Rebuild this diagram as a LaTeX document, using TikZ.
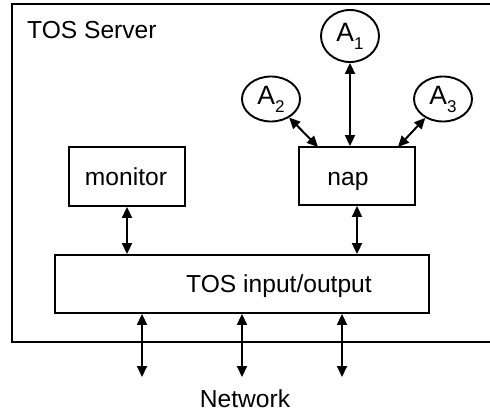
\documentclass[tikz,border=0pt]{standalone}
\usepackage{fontspec}
\setmainfont{Liberation Sans}
\usetikzlibrary{arrows.meta,shapes.geometric}

% lowered small index for the agent names
\newcommand\agentidx[1]{\raisebox{-0.3em}{\fontsize{17}{17}\selectfont #1}}

\begin{document}
\begin{tikzpicture}[x=1pt,y=-1pt,
  lbl/.style={font=\fontsize{24.6}{28}\selectfont,inner sep=0pt},
  box/.style={draw,line width=1.9pt,inner sep=0pt},
  agent/.style={draw,ellipse,line width=1.9pt,inner sep=0pt,
                font=\fontsize{26.5}{30}\selectfont},
  link/.style={line width=2pt,
    {Triangle[length=11pt,width=10pt]}-{Triangle[length=11pt,width=10pt]}}
]
\useasboundingbox (0,0) rectangle (490,412);

% server frame (open to the right)
\begin{scope}
  \clip (0,0) rectangle (490,412);
  \draw[line width=2.4pt] (12,4) rectangle (530,342);
\end{scope}
\node[lbl,anchor=base west] (srv) at (27,39) {TOS Server};

% boxes
\node[box,minimum width=116pt,minimum height=59pt] (monitor) at (127,176.5) {};
\node[lbl,anchor=base] (monl) at (126,185) {monitor};
\node[box,minimum width=116pt,minimum height=58pt] (nap) at (357,176) {};
\node[lbl,anchor=base] (napl) at (348,185) {nap};
\node[box,minimum width=374pt,minimum height=58pt] (io) at (242,284) {};
\node[lbl,anchor=base] (iol) at (279,292) {TOS input/output};

% agents
\node[agent,minimum width=58pt,minimum height=52pt] (A1) at (350,36) {A\agentidx{1}};
\node[agent,minimum width=58pt,minimum height=45pt] (A2) at (271,99) {A\agentidx{2}};
\node[agent,minimum width=58pt,minimum height=45pt] (A3) at (443,99) {A\agentidx{3}};

% agent links
\coordinate (n2) at (318,147);
\coordinate (n3) at (398,147);
\draw[link] (A1.south) -- (A1.south |- nap.north);
\draw[link] (A2) -- (n2);
\draw[link] (A3) -- (n3);

% internal links
\draw[link] (monitor.south) -- (monitor.south |- io.north);
\draw[link] (nap.south) -- (nap.south |- io.north);

% network links
\coordinate (w1) at (142,377);
\coordinate (w2) at (242,377);
\coordinate (w3) at (342,377);
\draw[link] (io.south -| w1) -- (w1);
\draw[link] (io.south -| w2) -- (w2);
\draw[link] (io.south -| w3) -- (w3);
\node[lbl,anchor=base] (net) at (245,407) {Network};
\end{tikzpicture}
\end{document}
